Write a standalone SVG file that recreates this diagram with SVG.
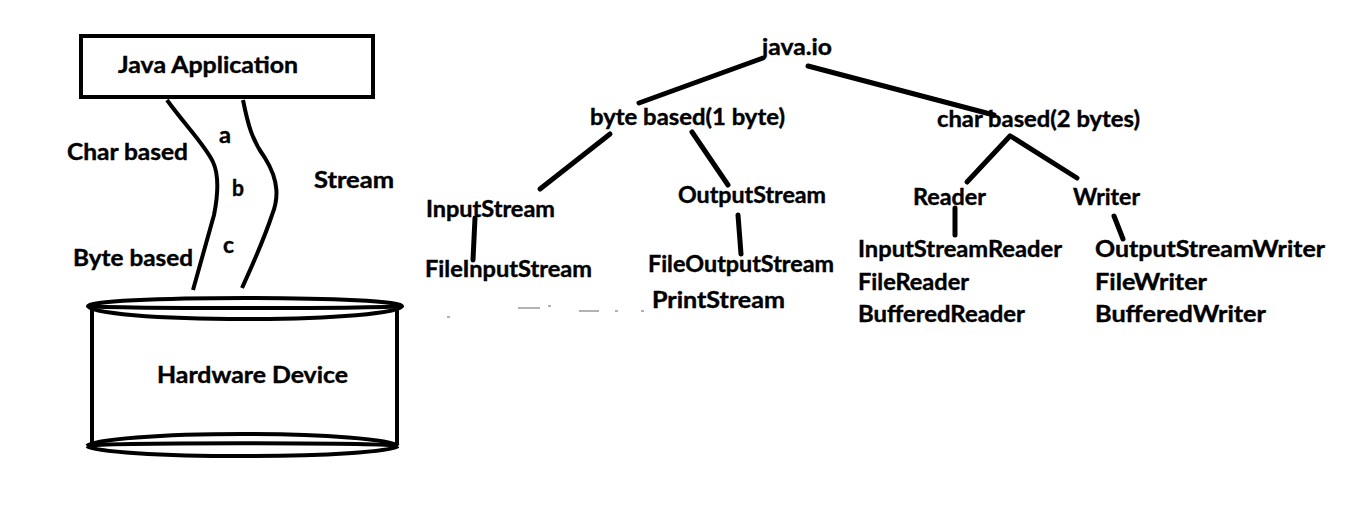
<svg xmlns="http://www.w3.org/2000/svg" width="1346" height="529" viewBox="0 0 1346 529">
<style>
text{font-family:Lato,"Open Sans","Liberation Sans",sans-serif;font-weight:bold;font-size:22px;fill:#000;stroke:#000;stroke-width:0.4}
.ln{stroke:#000;stroke-width:5;fill:none;stroke-linecap:round}
.cv{stroke:#000;stroke-width:4;fill:none}
.art{stroke:#999;stroke-width:1.5}
</style>
<rect width="1346" height="529" fill="#fff"/>
<g id="java-app">
<rect x="81" y="36" width="292" height="61" fill="#fff" stroke="#000" stroke-width="4"/>
<text x="118" y="73" textLength="180" lengthAdjust="spacingAndGlyphs">Java Application</text>
</g>
<g id="stream">
<path class="cv" d="M167,100 C185,125 205,145 213,162 C219,175 218,195 214,215 L193,290"/>
<path class="cv" d="M243,100 C248,125 252,140 265,158 C280,182 278,200 272,215 C262,245 250,270 242,288"/>
<text x="219" y="143" textLength="12" lengthAdjust="spacingAndGlyphs">a</text>
<text x="232" y="196" textLength="12" lengthAdjust="spacingAndGlyphs">b</text>
<text x="223" y="253" textLength="11" lengthAdjust="spacingAndGlyphs">c</text>
<text x="67" y="160" textLength="121" lengthAdjust="spacingAndGlyphs">Char based</text>
<text x="314" y="188" textLength="80" lengthAdjust="spacingAndGlyphs">Stream</text>
<text x="73" y="266" textLength="120" lengthAdjust="spacingAndGlyphs">Byte based</text>
</g>
<g id="hardware">
<path class="cv" d="M92,308 L92,445 M397,307 L397,445"/>
<path class="cv" d="M88,306 A157,8 0 0 1 402,306"/>
<path class="cv" d="M88,306 A157,2 0 0 0 402,306"/>
<path class="cv" d="M88,306 A157,13 0 0 0 402,306"/>
<path class="cv" d="M87,446 A156,13 0 0 1 398,446"/>
<path class="cv" d="M87,446 A156,3 0 0 1 398,446"/>
<path class="cv" d="M87,446 A156,11 0 0 0 398,446"/>
<text x="157" y="383" textLength="191" lengthAdjust="spacingAndGlyphs">Hardware Device</text>
</g>
<g id="connectors">
<path class="ln" d="M763,58 L639,103"/>
<path class="ln" d="M808,66 L994,115"/>
<path class="ln" d="M610,134 L540,189"/>
<path class="ln" d="M692,132 L728,185"/>
<path class="ln" d="M475,218 L473,260"/>
<path class="ln" d="M738,215 L741,254"/>
<path class="ln" d="M1010,136 L967,182"/>
<path class="ln" d="M1012,137 L1077,178"/>
<path class="ln" d="M955,208 L955,235"/>
<path class="ln" d="M1114,216 L1123,239"/>
</g>
<g id="java-io"><text x="762" y="55" textLength="70" lengthAdjust="spacingAndGlyphs">java.io</text></g>
<g id="byte-based"><text x="590" y="125" textLength="195" lengthAdjust="spacingAndGlyphs">byte based(1 byte)</text></g>
<g id="char-based"><text x="937" y="127" textLength="203" lengthAdjust="spacingAndGlyphs">char based(2 bytes)</text></g>
<g id="inputstream"><text x="426" y="217" textLength="129" lengthAdjust="spacingAndGlyphs">InputStream</text></g>
<g id="outputstream"><text x="678" y="203" textLength="148" lengthAdjust="spacingAndGlyphs">OutputStream</text></g>
<g id="fileinputstream"><text x="425" y="277" textLength="167" lengthAdjust="spacingAndGlyphs">FileInputStream</text></g>
<g id="fileoutputstream">
<text x="648" y="272" textLength="186" lengthAdjust="spacingAndGlyphs">FileOutputStream</text>
<text x="652" y="308" textLength="133" lengthAdjust="spacingAndGlyphs">PrintStream</text>
</g>
<g id="reader"><text x="913" y="205" textLength="73" lengthAdjust="spacingAndGlyphs">Reader</text></g>
<g id="writer"><text x="1073" y="205" textLength="67" lengthAdjust="spacingAndGlyphs">Writer</text></g>
<g id="reader-classes">
<text x="858" y="257" textLength="204" lengthAdjust="spacingAndGlyphs">InputStreamReader</text>
<text x="858" y="290" textLength="111" lengthAdjust="spacingAndGlyphs">FileReader</text>
<text x="858" y="322" textLength="167" lengthAdjust="spacingAndGlyphs">BufferedReader</text>
</g>
<g id="writer-classes">
<text x="1095" y="257" textLength="230" lengthAdjust="spacingAndGlyphs">OutputStreamWriter</text>
<text x="1095" y="290" textLength="112" lengthAdjust="spacingAndGlyphs">FileWriter</text>
<text x="1095" y="322" textLength="171" lengthAdjust="spacingAndGlyphs">BufferedWriter</text>
</g>
<g id="artifacts">
<path class="art" d="M447,317 h3 M518,308 h22 M548,306 h3 M579,311 h20 M615,311 h3 M641,311 h3"/>
</g>
</svg>
